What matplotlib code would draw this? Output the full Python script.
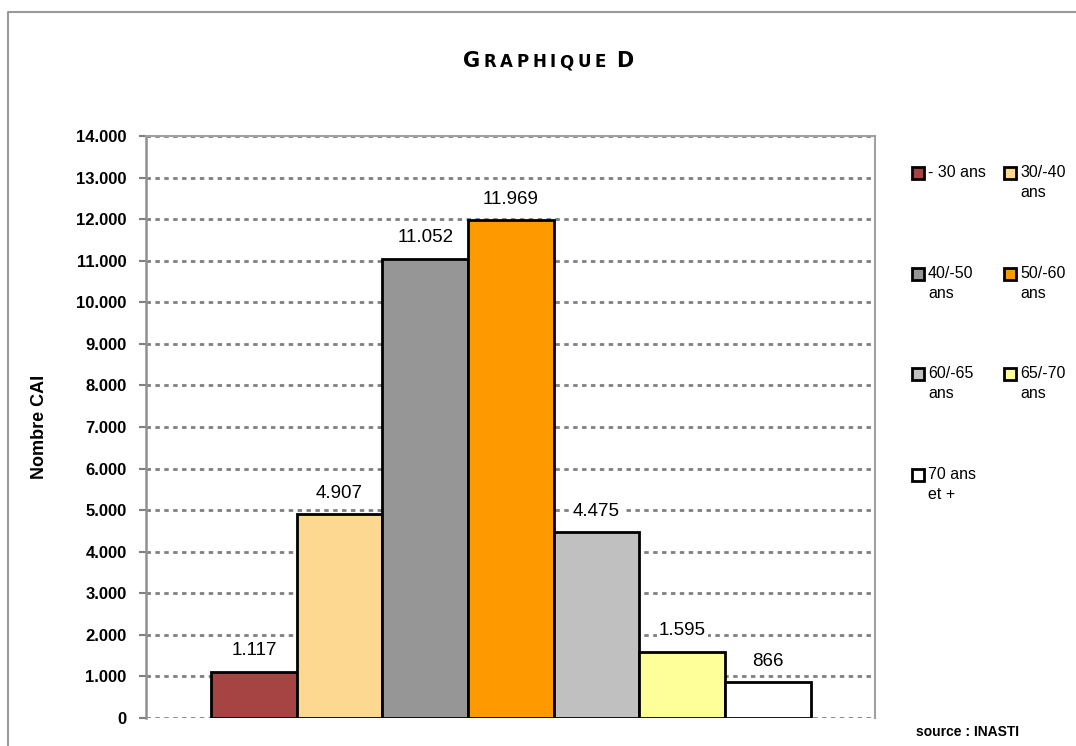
import matplotlib.pyplot as plt
from matplotlib.patches import Rectangle
from matplotlib.lines import Line2D
from matplotlib.offsetbox import TextArea, HPacker, AnnotationBbox

# data
categories = ['- 30 ans', '30/-40\nans', '40/-50\nans', '50/-60\nans',
              '60/-65\nans', '65/-70\nans', '70 ans\net +']
values = [1117, 4907, 11052, 11969, 4475, 1595, 866]
colors = ['#A64444', '#FDD891', '#969696', '#FF9900', '#C0C0C0', '#FFFF99', '#FFFFFF']
yticks = list(range(0, 14001, 1000))

def fmt(v):
    return '{:,.0f}'.format(v).replace(',', '.')

plt.rcParams['font.family'] = ['Liberation Sans', 'DejaVu Sans']

fig = plt.figure(figsize=(10.76, 7.46), dpi=100)
W, H = 1076.0, 746.0
ax = fig.add_axes([146 / W, 1 - 718 / H, (875 - 146) / W, (718 - 136) / H])

# bars
pos = list(range(len(values)))
ax.bar(pos, values, width=1.0, color=colors, edgecolor='black', linewidth=2, zorder=3)
ax.set_xlim(-1.26, 7.25)
ax.set_ylim(0, 14000)

# value labels
for x, v in zip(pos, values):
    ax.annotate(fmt(v), (x, v), xytext=(0, 15), textcoords='offset points',
                ha='center', va='center', fontsize=13.5, zorder=4,
                bbox=dict(boxstyle='square,pad=0.1', fc='white', ec='none'))

# axes styling
ax.set_yticks(yticks)
ax.set_yticklabels([fmt(t) for t in yticks], fontweight='bold', fontsize=12)
ax.set_xticks([])
ax.tick_params(axis='y', color='#808080', length=5, width=1.5, pad=9)
ax.yaxis.grid(True, color='#808080', linestyle=(0, (1.6, 1.6)), linewidth=2)
ax.set_axisbelow(True)
ax.spines['bottom'].set_visible(False)
ax.spines['left'].set_color('#909090')
ax.spines['left'].set_linewidth(1.8)
for s in ['top', 'right']:
    ax.spines[s].set_color('#a0a0a0')
    ax.spines[s].set_linewidth(1.5)
ax.set_ylabel('Nombre CAI', fontweight='bold', fontsize=13)
ax.yaxis.set_label_coords((48 - 146) / 729, 0.5)

# title in small caps
title_parts = []
for ch in 'GRAPHIQUE D':
    if ch == ' ':
        title_parts.append(TextArea(' ', textprops=dict(fontsize=8)))
        continue
    big = ch in 'GD'
    title_parts.append(TextArea(ch, textprops=dict(fontsize=15 if big else 12,
                                                   fontweight='bold', family='DejaVu Sans')))
pack = HPacker(children=title_parts, align='baseline', pad=0, sep=2.6)
fig.add_artist(AnnotationBbox(pack, (548 / W, 1 - 61 / H), xycoords='figure fraction',
                              frameon=False, box_alignment=(0.5, 0.5)))

# legend, two columns
narrow = ['Liberation Sans Narrow', 'Liberation Sans', 'DejaVu Sans']
for i, (lab, col) in enumerate(zip(categories, colors)):
    r, c = divmod(i, 2)
    x0 = [912, 1004][c]
    yc = 173 + r * 100.7
    sq = Rectangle((x0 / W, 1 - (yc + 6) / H), 12 / W, 12 / H, transform=fig.transFigure,
                   facecolor=col, edgecolor='black', linewidth=2)
    fig.add_artist(sq)
    fig.text((x0 + 16) / W, 1 - (yc - 8) / H, lab, ha='left', va='top',
             fontsize=11.5, family=narrow, linespacing=1.4)

# source
fig.text(967 / W, 1 - 732 / H, 'source : INASTI', ha='center', va='center',
         fontsize=10, fontweight='bold')

# outer frame
fig.add_artist(Line2D([8 / W, 8 / W, 1.0], [0.0, 1 - 12 / H, 1 - 12 / H],
                      transform=fig.transFigure, color='#999999', linewidth=1.5))

fig.savefig('out.png', dpi=100)
